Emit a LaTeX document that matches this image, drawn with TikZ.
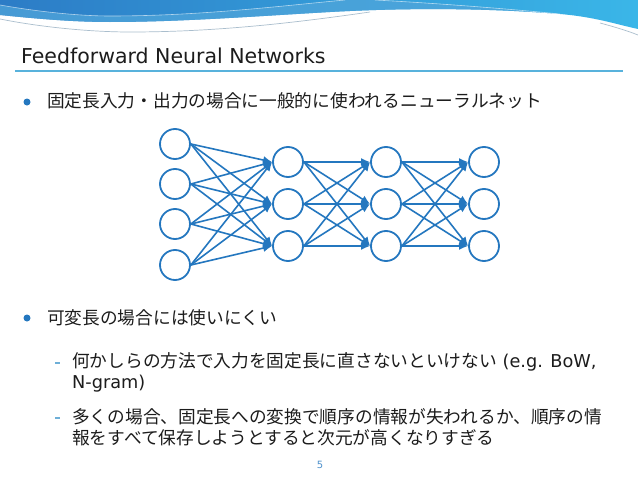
\documentclass[tikz,border=0pt]{standalone}
\usepackage{fontspec}
\setmainfont{DejaVu Sans}
\newfontfamily\jp{Noto Sans CJK JP}
\usetikzlibrary{arrows.meta}
\definecolor{netblue}{RGB}{36,119,191}
\definecolor{hdrL}{RGB}{44,124,198}
\definecolor{hdrR}{RGB}{58,182,232}
\definecolor{bandc}{RGB}{80,165,218}
\definecolor{rulec}{RGB}{88,178,220}
\definecolor{dashc}{RGB}{110,175,215}
\definecolor{txt}{RGB}{28,28,28}
\definecolor{wavegray}{RGB}{170,190,205}
\tikzset{
  neuron/.style={circle,draw=netblue,line width=1.8pt,minimum size=30pt,inner sep=0pt,fill=white},
  conn/.style={draw=netblue,line width=1.6pt,-{Latex[length=9pt,width=8pt]}},
  bodytext/.style={anchor=base west,inner sep=0pt,text=txt,font=\fontsize{17.7}{21}\selectfont},
  bulletdot/.style={circle,fill=netblue,inner sep=0pt,minimum size=7pt},
  subdash/.style={draw=dashc,line width=1.3pt}
}
\begin{document}
\begin{tikzpicture}[x=1pt,y=-1pt]
\useasboundingbox (0,0) rectangle (638,479);
\fill[white] (0,0) rectangle (638,479);
% header wave
\shade[left color=hdrL,right color=hdrR] (0,0) -- (638,0) -- (638,29)
  .. controls (615,24) and (595,17) .. (560,14)
  .. controls (500,9) and (420,7) .. (330,12)
  .. controls (260,16) and (180,22) .. (110,22)
  .. controls (70,22) and (30,18) .. (0,15) -- cycle;
\fill[bandc,opacity=0.75] (0,5) .. controls (40,12) and (80,16) .. (110,16)
  .. controls (200,16) and (280,6) .. (345,0) -- (375,0)
  .. controls (450,4) and (520,10) .. (560,14)
  .. controls (500,9) and (420,7) .. (330,12)
  .. controls (260,16) and (180,22) .. (110,22)
  .. controls (70,22) and (30,18) .. (0,15) -- cycle;
\draw[white,opacity=0.6,line width=0.6pt] (0,5) .. controls (40,12) and (80,16) .. (110,16)
  .. controls (200,16) and (280,6) .. (345,0);
\draw[white,opacity=0.6,line width=0.6pt] (375,0) .. controls (450,4) and (520,10) .. (560,14);
\draw[wavegray,line width=0.7pt] (0,19) .. controls (40,27) and (90,32) .. (130,32)
  .. controls (220,32) and (300,22) .. (370,12);
\draw[wavegray,line width=0.7pt] (600,23) .. controls (615,27) and (628,31) .. (638,35);
% title
\node[anchor=base west,inner sep=0pt,text=txt,font=\fontsize{20.5}{24}\selectfont] (title) at (21,63) {Feedforward Neural Networks};
\coordinate (ruleL) at (15,71);
\coordinate (ruleR) at (623,71);
\draw[rulec,line width=2.2pt] (ruleL) -- (ruleR);
% bullet 1
\node[bulletdot] (b1) at (27,102) {};
\node[bodytext] (t1) at (47,107) {\jp 固定長入力・出力の場合に一般的に使われるニューラルネット};
% network
\foreach \n/\y in {1/144,2/184,3/224,4/265} \node[neuron] (i\n) at (175,\y) {};
\foreach \n/\y in {1/162,2/204,3/246} {
  \node[neuron] (h\n) at (288,\y) {};
  \node[neuron] (g\n) at (386,\y) {};
  \node[neuron] (o\n) at (484,\y) {};
}
\foreach \a in {1,2,3,4} \foreach \b in {1,2,3} \draw[conn] (i\a.east) -- (h\b.west);
\foreach \a in {1,2,3} \foreach \b in {1,2,3} {
  \draw[conn] (h\a.east) -- (g\b.west);
  \draw[conn] (g\a.east) -- (o\b.west);
}
% bullet 2
\node[bulletdot] (b2) at (27,318) {};
\node[bodytext] (t2) at (47,324) {\jp 可変長の場合には使いにくい};
% sub bullets
\coordinate (d1a) at (55,363); \coordinate (d1b) at (60,363);
\draw[subdash] (d1a) -- (d1b);
\node[bodytext] (s1) at (72,367) {{\jp 何かしらの方法で入力を固定長に直さないといけない} (e.g. BoW,};
\node[bodytext] (s1b) at (72,388) {N-gram)};
\coordinate (d2a) at (55,418); \coordinate (d2b) at (60,418);
\draw[subdash] (d2a) -- (d2b);
\node[bodytext] (s2) at (72,423) {\jp 多くの場合、固定長への変換で順序の情報が失われるか、順序の情};
\node[bodytext] (s2b) at (72,444) {\jp 報をすべて保存しようとすると次元が高くなりすぎる};
% page number
\node[text=netblue!80,font=\fontsize{10}{12}\selectfont,inner sep=0pt] (pg) at (320,465) {5};
\end{tikzpicture}
\end{document}
